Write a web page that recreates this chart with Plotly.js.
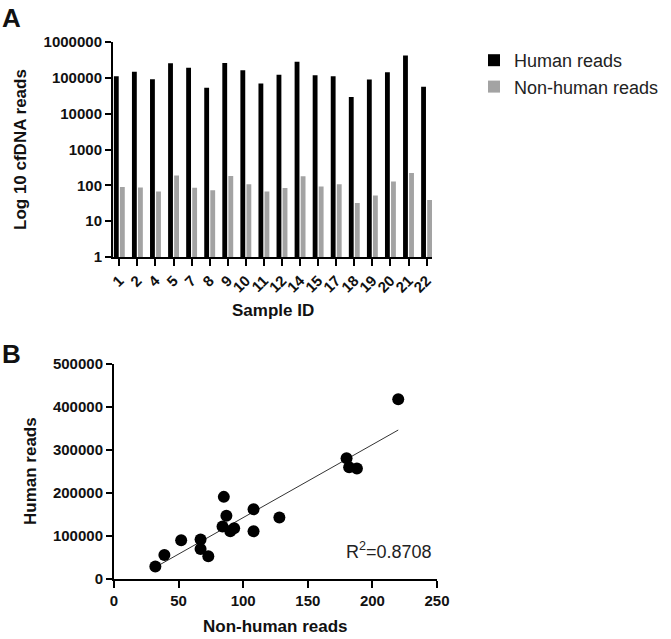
<!DOCTYPE html>
<html>
<head>
<meta charset="utf-8">
<script src="https://cdn.plot.ly/plotly-3.0.1.min.js"></script>
<style>html,body{margin:0;padding:0;background:#fff;}#chart{width:671px;height:639px;}</style>
</head>
<body>
<div id="chart"></div>
<script>
// ---- data ----
const sampleIds = ['1','2','4','5','7','8','9','10','11','12','14','15','17','18','19','20','21','22'];
const humanReads = [111000,147000,92000,257000,191000,53000,260000,162000,70000,122000,281000,118000,111000,29000,90000,143000,418000,56000];
const nonHumanReads = [90,87,67,188,85,73,182,108,67,84,180,93,108,32,52,128,220,39];
const logTickVals = [1,10,100,1000,10000,100000,1000000];
const logTickText = ['1','10','100','1000','10000','100000','1000000'];
const r2Label = 'R<sup>2</sup>=0.8708';

// ---- regression (least squares) ----
const n = nonHumanReads.length;
const mx = nonHumanReads.reduce((a,b)=>a+b,0)/n;
const my = humanReads.reduce((a,b)=>a+b,0)/n;
let sxy=0, sxx=0;
for (let i=0;i<n;i++){ sxy += (nonHumanReads[i]-mx)*(humanReads[i]-my); sxx += (nonHumanReads[i]-mx)**2; }
const slope = sxy/sxx, intercept = my - slope*mx;
const xMin = Math.min(...nonHumanReads), xMax = Math.max(...nonHumanReads);
const fitX = [xMin, xMax];
const fitY = fitX.map(v => intercept + slope*v);

// ---- layout helpers ----
const W = 671, H = 639;
const px = p => p / W;
const py = p => 1 - p / H;
const FONT = 'Liberation Sans, Arial, sans-serif';
const bold = (size) => ({family: FONT, size: size, color: '#111', weight: 700});

const traces = [
  {type:'bar', name:'Human reads', x: sampleIds, y: humanReads, marker:{color:'#000000'}, xaxis:'x', yaxis:'y'},
  {type:'bar', name:'Non-human reads', x: sampleIds, y: nonHumanReads, marker:{color:'#a3a3a3'}, xaxis:'x', yaxis:'y'},
  {type:'scatter', mode:'lines', x: fitX, y: fitY, line:{color:'#333', width:1}, xaxis:'x2', yaxis:'y2', showlegend:false, hoverinfo:'skip'},
  {type:'scatter', mode:'markers', x: nonHumanReads, y: humanReads, marker:{color:'#000', size:12}, xaxis:'x2', yaxis:'y2', showlegend:false}
];

const axisCommon = {
  showline:true, linecolor:'#000', linewidth:2, showgrid:false, zeroline:false,
  ticks:'outside', tickcolor:'#000', tickwidth:2, automargin:false
};

const ann = (text, x, y, font, extra) => Object.assign({
  text, xref:'paper', yref:'paper', x:px(x), y:py(y), xanchor:'center', yanchor:'middle', showarrow:false, font
}, extra || {});

const layout = {
  width: W, height: H,
  margin: {l:0, r:0, t:0, b:0},
  paper_bgcolor:'#fff', plot_bgcolor:'#fff',
  barmode:'group', bargap:0.33, bargroupgap:0.2,
  showlegend:true,
  legend: {x: px(474), y: py(42), xanchor:'left', yanchor:'top', font:{family:FONT, size:18, color:'#222'}, tracegroupgap:0, bgcolor:'rgba(0,0,0,0)'},
  xaxis: Object.assign({}, axisCommon, {
    domain:[px(113), px(432)], anchor:'y', type:'category', range:[-0.35, 17.3],
    ticklen:7, tickangle:-45, tickfont: bold(15)
  }),
  yaxis: Object.assign({}, axisCommon, {
    domain:[py(257), py(42)], anchor:'x', type:'log', range:[0, 6],
    tickvals: logTickVals, ticktext: logTickText, ticklen:6, tickfont: bold(15)
  }),
  xaxis2: Object.assign({}, axisCommon, {
    domain:[px(114), px(437)], anchor:'y2', range:[0, 250], dtick:50, tick0:0,
    ticklen:7, tickfont: bold(15)
  }),
  yaxis2: Object.assign({}, axisCommon, {
    domain:[py(579), py(364)], anchor:'x2', range:[0, 500000], dtick:100000, tick0:0,
    tickformat:'d', ticklen:6, tickfont: bold(15)
  }),
  annotations: [
    ann('A', 11, 18, bold(26)),
    ann('B', 11, 354, bold(26)),
    ann('Log 10 cfDNA reads', 20, 150, bold(17), {textangle:-90}),
    ann('Sample ID', 273, 311, bold(17)),
    ann('Human reads', 30, 471, bold(17), {textangle:-90}),
    ann('Non-human reads', 275, 626, bold(17)),
    {text:r2Label, xref:'x2', yref:'y2', x:248, y:67000, xanchor:'right', yanchor:'middle', showarrow:false, font:{family:FONT, size:18, color:'#222'}}
  ]
};

Plotly.newPlot('chart', traces, layout, {displayModeBar:false, staticPlot:true});
</script>
</body>
</html>
